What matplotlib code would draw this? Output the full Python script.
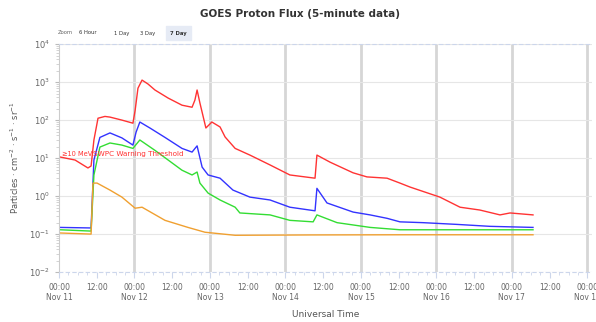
import numpy as np
import matplotlib
matplotlib.use("Agg")
import matplotlib.pyplot as plt
from matplotlib.ticker import FixedLocator, NullFormatter

# hours since 2025-11-11 00:00 UT, flux in pfu
p10_t = [0.3, 5.1, 9.2, 10.2, 11.1, 12.4, 14.6, 16.2, 20.0, 23.5, 24.2, 25.1, 26.4, 28.3,
         30.5, 34.7, 39.1, 42.3, 43.2, 43.9, 44.8, 46.7, 48.6, 51.2, 52.8, 56.0, 60.7,
         67.1, 73.4, 81.4, 82.0, 86.2, 93.5, 97.9, 104.3, 108.4, 111.6, 121.1, 127.5,
         133.8, 140.2, 143.4, 150.7]
p10_v = [10.7, 8.9, 5.5, 6.2, 30, 112, 125, 120, 100, 83, 180, 690, 1130, 890,
         620, 380, 247, 218, 335, 620, 282, 62, 89, 66, 36, 18, 12,
         6.6, 3.6, 2.96, 12, 7.8, 4.1, 3.2, 2.96, 2.2, 1.73, 0.94, 0.51,
         0.43, 0.32, 0.36, 0.32]

p50_t = [0.3, 10.2, 11.1, 13.0, 16.2, 20.0, 23.5, 24.5, 25.7, 28.9, 33.7, 39.1, 42.3,
         43.9, 45.5, 47.4, 51.2, 55.3, 60.7, 67.1, 73.4, 81.4, 82.0, 85.2, 93.5, 98.9,
         104.3, 108.4, 115.7, 126.5, 137.0, 150.7]
p50_v = [0.15, 0.145, 8.9, 35, 46, 34, 22, 48, 89, 62, 35, 18, 14.4,
         21, 5.8, 3.6, 2.96, 1.44, 0.94, 0.79, 0.51, 0.41, 1.6, 0.66, 0.38, 0.32,
         0.26, 0.21, 0.2, 0.18, 0.16, 0.15]

p100_t = [0.3, 10.2, 11.1, 13.0, 16.2, 20.0, 23.5, 25.7, 30.5, 34.7, 39.1, 42.3, 43.9,
          44.8, 47.4, 51.2, 56.0, 57.5, 67.1, 73.4, 80.8, 82.0, 88.4, 98.9, 108.4, 150.7]
p100_v = [0.13, 0.12, 3.6, 19.5, 25, 22, 18, 30, 16, 8.9, 4.8, 3.6, 4.3,
          2.2, 1.2, 0.79, 0.51, 0.36, 0.32, 0.23, 0.21, 0.32, 0.2, 0.15, 0.13, 0.13]

p500_t = [0.3, 10.2, 10.8, 12.1, 16.2, 20.0, 24.2, 26.4, 33.7, 41.0, 46.4, 56.0, 80.0,
          110.0, 150.7]
p500_v = [0.107, 0.1, 2.2, 2.2, 1.44, 0.94, 0.48, 0.51, 0.23, 0.15, 0.112, 0.093, 0.095,
          0.096, 0.096]

threshold = 10
day_labels = ["Nov 11", "Nov 12", "Nov 13", "Nov 14", "Nov 15", "Nov 16", "Nov 17", "Nov 18"]

fig = plt.figure(figsize=(5.96, 3.22), dpi=100)
ax = fig.add_axes([0.099, 0.155, 0.894, 0.708])

ax.plot(p10_t, p10_v, color="#ff3333", lw=1.0)
ax.plot(p50_t, p50_v, color="#3333ff", lw=1.0)
ax.plot(p100_t, p100_v, color="#33dd33", lw=1.0)
ax.plot(p500_t, p500_v, color="#f0a030", lw=1.0)

ax.axhline(threshold, color="#ff9999", lw=0.6, zorder=1)
ax.text(1.0, threshold * 1.05, "≥10 MeV", color="#ff3333", fontsize=4.8, va="bottom")
ax.text(10.8, threshold * 1.05, "SWPC Warning Threshold", color="#ff3333", fontsize=5.2, va="bottom")

ax.set_yscale("log")
ax.set_ylim(1e-2, 1e4)
ax.set_xlim(0, 169.4)

ax.set_yticks([10.0 ** k for k in range(-2, 5)])
ax.yaxis.set_minor_locator(FixedLocator([m * 10.0 ** k for k in range(-2, 4) for m in range(2, 10)]))
ax.yaxis.set_minor_formatter(NullFormatter())
ax.tick_params(axis="y", which="major", labelsize=6, labelcolor="#666666", length=3, color="#bbbbbb")
ax.tick_params(axis="y", which="minor", length=2, color="#cccccc")

xt = np.arange(0, 169, 12)
xl = []
for i, h in enumerate(xt):
    if h % 24 == 0:
        xl.append("00:00\n" + day_labels[int(h // 24)])
    else:
        xl.append("12:00")
ax.set_xticks(xt)
ax.set_xticklabels(xl)
ax.set_xticks(np.arange(0, 170, 3), minor=True)
ax.tick_params(axis="x", which="major", labelsize=5.5, labelcolor="#666666", length=4, color="#ccd6eb")
ax.tick_params(axis="x", which="minor", length=2, color="#ccd6eb")

for h in range(24, 169, 24):
    ax.axvline(h, color="#d6d6d6", lw=2, zorder=0)
ax.grid(axis="y", which="major", color="#e6e6e6", lw=0.8)

ax.spines["left"].set_color("#cccccc")
ax.spines["left"].set_linewidth(0.8)
for s in ["bottom", "top"]:
    ax.spines[s].set_color("#ccd6eb")
    ax.spines[s].set_linestyle((0, (3, 3)))
    ax.spines[s].set_linewidth(0.8)
ax.spines["right"].set_visible(False)

ax.set_xlabel("Universal Time", fontsize=6.5, color="#555555", labelpad=6)
ax.set_ylabel("Particles · cm$^{-2}$ · s$^{-1}$ · sr$^{-1}$", fontsize=6, color="#555555", labelpad=6)

fig.text(0.503, 0.955, "GOES Proton Flux (5-minute data)", ha="center", va="center",
         fontsize=7.5, fontweight="bold", color="#333333")

# range selector buttons
fig.text(65 / 596, 1 - 33 / 322, "Zoom", fontsize=3.8, color="#666666", ha="center", va="center")
for lab, px in [("6 Hour", 88), ("1 Day", 122), ("3 Day", 148), ("7 Day", 178)]:
    if lab == "7 Day":
        fig.patches.append(plt.Rectangle((166 / 596, 1 - 40 / 322), 25 / 596, 14 / 322,
                                         transform=fig.transFigure, color="#e6ebf5", zorder=0))
    fig.text(px / 596, 1 - 33 / 322, lab, fontsize=3.8, color="#333333", ha="center", va="center",
             fontweight="bold" if lab == "7 Day" else "normal")

fig.savefig("out.png", dpi=100)
